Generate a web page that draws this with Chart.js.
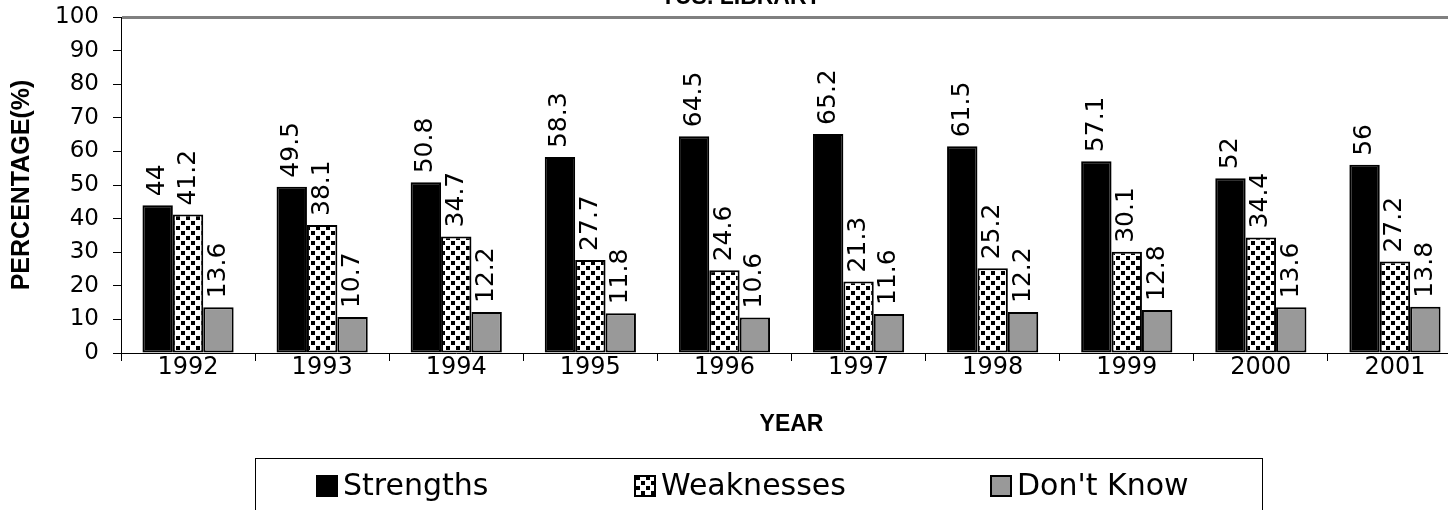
<!DOCTYPE html>
<html>
<head>
<meta charset="utf-8">
<script src="https://cdn.jsdelivr.net/npm/chart.js@4.4.0/dist/chart.umd.min.js"></script>
<style>
  html, body { margin: 0; padding: 0; background: #fff; overflow: hidden; }
  #wrap { width: 1448px; height: 510px; overflow: hidden; position: relative; }
  canvas { position: absolute; left: 0; top: 0; }
</style>
</head>
<body>
<div id="wrap"><canvas id="chart" width="1462" height="510"></canvas></div>
<script>
const years = ["1992", "1993", "1994", "1995", "1996", "1997", "1998", "1999", "2000", "2001"];
const strengths = [44, 49.5, 50.8, 58.3, 64.5, 65.2, 61.5, 57.1, 52, 56];
const weaknesses = [41.2, 38.1, 34.7, 27.7, 24.6, 21.3, 25.2, 30.1, 34.4, 27.2];
const dontKnow = [13.6, 10.7, 12.2, 11.8, 10.6, 11.6, 12.2, 12.8, 13.6, 13.8];
const seriesNames = ["Strengths", "Weaknesses", "Don't Know"];

// dotted fill like the old spreadsheet pattern
function makePattern() {
  const c = document.createElement("canvas");
  c.width = 10;
  c.height = 10;
  const p = c.getContext("2d");
  p.fillStyle = "#fff";
  p.fillRect(0, 0, 10, 10);
  p.fillStyle = "#000";
  p.fillRect(1, 1, 4, 4);
  p.fillRect(6, 6, 4, 4);
  return p.createPattern(c, "repeat");
}

const dotted = makePattern();

// value labels written upwards above each bar
const barLabels = {
  id: "barLabels",
  afterDatasetsDraw(chart) {
    const ctx = chart.ctx;
    ctx.save();
    ctx.fillStyle = "#000";
    ctx.font = "25px 'DejaVu Sans'";
    ctx.textAlign = "left";
    ctx.textBaseline = "middle";
    chart.data.datasets.forEach((ds, i) => {
      chart.getDatasetMeta(i).data.forEach((bar, j) => {
        ctx.save();
        ctx.translate(bar.x, bar.y - 9);
        ctx.rotate(-Math.PI / 2);
        ctx.fillText(String(ds.data[j]), 0, 0);
        ctx.restore();
      });
    });
    ctx.restore();
  }
};

// cropped title and the boxed legend at the bottom
const extras = {
  id: "extras",
  afterDraw(chart) {
    const ctx = chart.ctx;
    ctx.save();
    ctx.fillStyle = "#000";
    ctx.font = "bold 23px 'Liberation Sans'";
    ctx.textAlign = "center";
    ctx.textBaseline = "alphabetic";
    ctx.fillText("TUS. LIBRARY", 741, 4);

    ctx.strokeStyle = "#000";
    ctx.lineWidth = 1;
    ctx.strokeRect(255.5, 458.5, 1007, 80);

    const xs = [316, 634, 990];
    ctx.font = "30px 'DejaVu Sans'";
    ctx.textAlign = "left";
    ctx.textBaseline = "middle";
    chart.data.datasets.forEach((ds, i) => {
      ctx.fillStyle = ds.backgroundColor;
      ctx.fillRect(xs[i], 475, 22, 22);
      ctx.lineWidth = 2;
      ctx.strokeRect(xs[i] + 1, 476, 20, 20);
      ctx.fillStyle = "#000";
      ctx.fillText(ds.label, xs[i] + 27, 487);
    });
    ctx.restore();
  }
};

const datasets = [strengths, weaknesses, dontKnow].map((vals, i) => ({
  label: seriesNames[i],
  data: vals,
  backgroundColor: ["#000000", dotted, "#999999"][i],
  borderColor: "#000",
  borderWidth: 2,
  borderSkipped: false,
  barPercentage: 1,
  categoryPercentage: 0.68
}));

new Chart(document.getElementById("chart"), {
  type: "bar",
  data: { labels: years, datasets },
  options: {
    responsive: false,
    animation: false,
    layout: { padding: { top: 17, bottom: 67, left: 0, right: 0 } },
    plugins: {
      legend: { display: false },
      tooltip: { enabled: false }
    },
    scales: {
      x: {
        offset: true,
        afterFit: s => {
          s.height = 90;
          s.paddingLeft = 0;
          s.paddingRight = 0;
        },
        grid: {
          offset: true,
          drawOnChartArea: false,
          tickLength: 8,
          tickColor: "#000",
          tickWidth: 1
        },
        border: { color: "#000", width: 1 },
        ticks: {
          color: "#000",
          padding: -8,
          font: { family: "DejaVu Sans", size: 24 }
        },
        title: {
          display: true,
          text: "YEAR",
          color: "#000",
          padding: { top: 0, bottom: 5 },
          font: { family: "Liberation Sans", size: 23, weight: "bold" }
        }
      },
      y: {
        min: 0,
        max: 100,
        afterFit: s => {
          s.width = 121;
          s.paddingTop = 0;
          s.paddingBottom = 0;
        },
        grid: {
          color: c => (c.tick && c.tick.value === 100 ? "#808080" : "rgba(0,0,0,0)"),
          lineWidth: c => (c.tick && c.tick.value === 100 ? 3 : 1),
          tickColor: "#000",
          tickLength: 8,
          tickWidth: 1
        },
        border: { color: "#000", width: 1 },
        ticks: {
          stepSize: 10,
          color: "#000",
          padding: 14,
          font: { family: "DejaVu Sans", size: 23 }
        },
        title: {
          display: true,
          text: "PERCENTAGE(%)",
          color: "#000",
          padding: { top: 7, bottom: 0 },
          font: { family: "Liberation Sans", size: 25, weight: "bold" }
        }
      }
    }
  },
  plugins: [barLabels, extras]
});
</script>
</body>
</html>
